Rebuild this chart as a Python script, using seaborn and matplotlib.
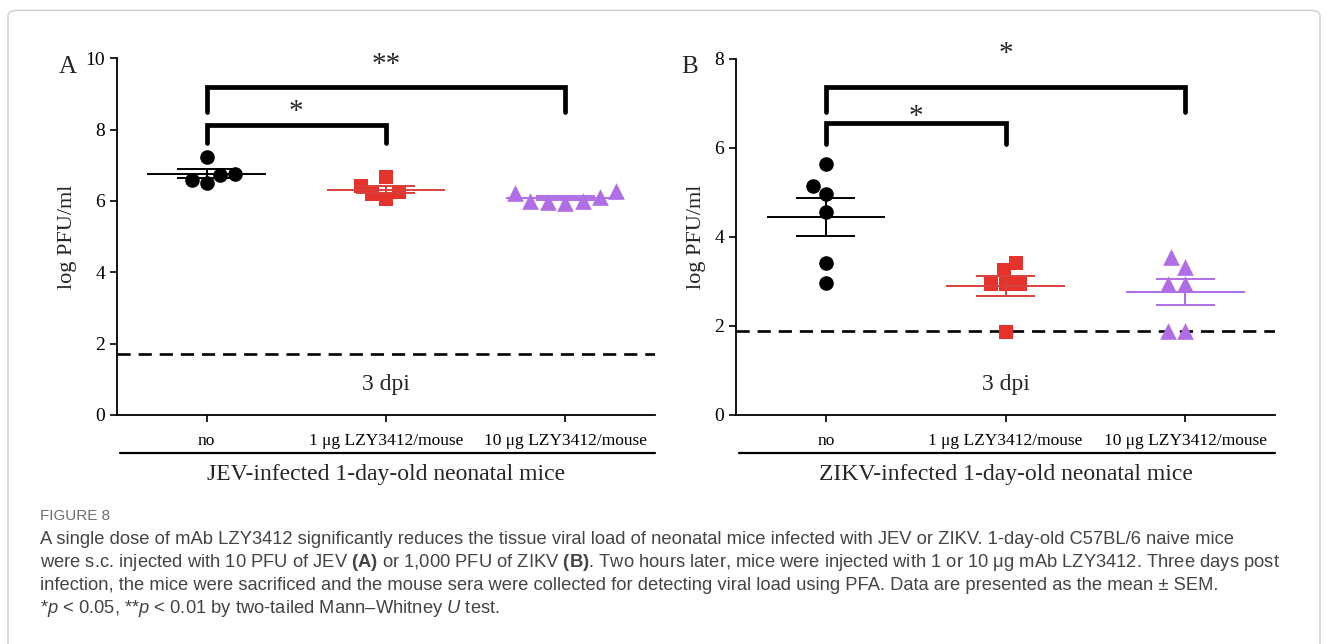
import numpy as np
import pandas as pd
import seaborn as sns
import matplotlib.pyplot as plt
from matplotlib.patches import FancyBboxPatch

# group names on the x axis
groups = ["no", "1 μg LZY3412/mouse", "10 μg LZY3412/mouse"]

# panel A, JEV (log PFU/ml)
jev_no = [6.50, 6.75, 7.24, 6.59, 6.72]
jev_1ug = [6.66, 6.06, 6.43, 6.19, 6.24]
jev_10ug = [5.99, 6.29, 6.01, 6.22, 5.94, 6.10, 5.96]
jev_limit = 1.7

# panel B, ZIKV (log PFU/ml)
zikv_no = [5.64, 5.14, 4.96, 4.56, 3.42, 2.96]
zikv_1ug = [3.25, 3.42, 2.94, 1.87, 2.94, 2.94]
zikv_10ug = [3.33, 3.55, 2.95, 2.95, 1.88, 1.88]
zikv_limit = 1.88

colors = ["#000000", "#e5322a", "#b06ee6"]
mean_colors = ["#000000", "#d9403a", "#b06ee6"]
markers = ["o", "s", "^"]

sns.set_theme(style="ticks")
plt.rcParams["font.family"] = ["Liberation Serif", "DejaVu Serif"]
plt.rcParams["mathtext.fontset"] = "custom"
plt.rcParams["mathtext.rm"] = "Liberation Sans"
plt.rcParams["mathtext.it"] = "Liberation Sans:italic"
plt.rcParams["mathtext.bf"] = "Liberation Sans:bold"


def make_df(values):
    rows = []
    for g, vals in zip(groups, values):
        for v in vals:
            rows.append({"group": g, "value": v})
    return pd.DataFrame(rows)


def draw_panel(ax, df, ymax, limit, brackets, title, sizes):
    for i, g in enumerate(groups):
        sub = df[df.group == g]
        sns.swarmplot(ax=ax, data=sub, x="group", y="value", order=groups,
                      color=colors[i], marker=markers[i], size=sizes[i],
                      linewidth=0, zorder=3)
        m = sub.value.mean()
        se = sub.value.std(ddof=1) / np.sqrt(len(sub))
        ax.hlines(m, i - 0.33, i + 0.33, color=mean_colors[i], lw=1.4, zorder=4)
        ax.hlines([m - se, m + se], i - 0.165, i + 0.165, color=mean_colors[i], lw=1.4, zorder=4)
        ax.vlines(i, m - se, m + se, color=mean_colors[i], lw=1.4, zorder=4)
    ax.axhline(limit, color="black", lw=1.9, ls=(0, (5, 3)), zorder=2)
    # significance brackets: (left, right, top, leg bottom, label, label y)
    for x0, x1, top, low, lab, ly in brackets:
        ax.plot([x0, x0, x1, x1], [low, top, top, low], color="black", lw=3.4,
                solid_joinstyle="miter", clip_on=False, zorder=5)
        ax.text((x0 + x1) / 2, ly, lab, ha="center", va="center", fontsize=21,
                clip_on=False)
    ax.text(1, ymax * 0.085, "3 dpi", ha="center", va="center", fontsize=17)
    ax.set_xlim(-0.5, 2.5)
    ax.set_ylim(0, ymax)
    ax.set_yticks(np.arange(0, ymax + 1, 2))
    ax.set_xlabel("")
    ax.set_ylabel("log PFU/ml", fontsize=16, labelpad=6)
    ax.tick_params(axis="y", labelsize=14, length=5, width=1.2, colors="black")
    ax.tick_params(axis="x", labelsize=12.5, length=5, width=1.2, pad=8, colors="black")
    for s in ["top", "right"]:
        ax.spines[s].set_visible(False)
    for s in ["left", "bottom"]:
        ax.spines[s].set_linewidth(1.3)
        ax.spines[s].set_color("black")
    ax.plot([0.005, 1.0], [-0.106, -0.106], transform=ax.transAxes, color="black",
            lw=1.6, clip_on=False)
    ax.text(0.5, -0.167, title, transform=ax.transAxes, ha="center", va="center",
            fontsize=17)


fig = plt.figure(figsize=(13.28, 6.44), dpi=100)
axA = fig.add_axes([0.0881, 0.3556, 0.405, 0.554])
axB = fig.add_axes([0.5542, 0.3556, 0.406, 0.553])

draw_panel(axA, make_df([jev_no, jev_1ug, jev_10ug]), 10, jev_limit,
           [(0, 1, 8.14, 7.63, "*", 8.5), (0, 2, 9.2, 8.5, "**", 9.8)],
           "JEV-infected 1-day-old neonatal mice", [10.5, 10, 12])
draw_panel(axB, make_df([zikv_no, zikv_1ug, zikv_10ug]), 8, zikv_limit,
           [(0, 1, 6.57, 6.09, "*", 6.7), (0, 2, 7.37, 6.8, "*", 8.1)],
           "ZIKV-infected 1-day-old neonatal mice", [10.5, 10, 12])

fig.text(68 / 1328, 1 - 67 / 644, "A", fontsize=18, ha="center", va="center")
fig.text(690 / 1328, 1 - 67 / 644, "B", fontsize=18, ha="center", va="center")

# frame around the figure
fig.patches.append(FancyBboxPatch((8 / 1328, -0.05), 1312 / 1328, 1.034,
                                  boxstyle="round,pad=0,rounding_size=0.008",
                                  transform=fig.transFigure, fill=False,
                                  edgecolor="#cfcfcf", lw=1.0))

cap_font = ["Liberation Sans", "DejaVu Sans"]
fig.text(40 / 1328, 1 - 516 / 644, "FIGURE 8", fontsize=11, color="#6e6e6e",
         family=cap_font, va="center")
caption = [
    "A single dose of mAb LZY3412 significantly reduces the tissue viral load of neonatal mice infected with JEV or ZIKV. 1-day-old C57BL/6 naive mice",
    "were s.c. injected with 10 PFU of JEV $\\mathbf{(A)}$ or 1,000 PFU of ZIKV $\\mathbf{(B)}$. Two hours later, mice were injected with 1 or 10 μg mAb LZY3412. Three days post",
    "infection, the mice were sacrificed and the mouse sera were collected for detecting viral load using PFA. Data are presented as the mean ± SEM.",
    "*$\\mathit{p}$ < 0.05, **$\\mathit{p}$ < 0.01 by two-tailed Mann–Whitney $\\mathit{U}$ test.",
]
for k, line in enumerate(caption):
    fig.text(40 / 1328, 1 - (539 + 23.3 * k) / 644, line, fontsize=13.2, color="#444444",
             family=cap_font, va="center")

fig.savefig("out.png", dpi=100)
